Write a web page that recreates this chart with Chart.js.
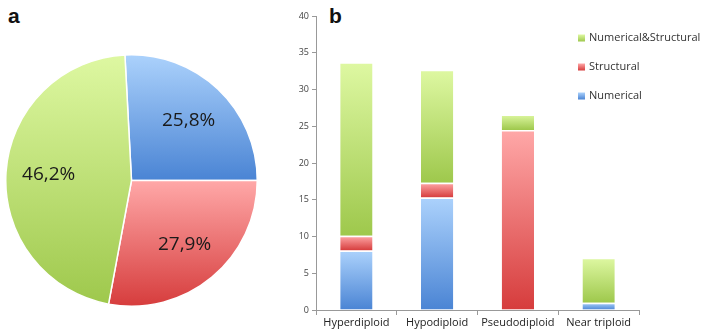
<!DOCTYPE html>
<html>
<head>
<meta charset="utf-8">
<script src="https://cdn.jsdelivr.net/npm/chart.js@4"></script>
<style>
  body { margin: 0; background: #fff; width: 706px; height: 332px; position: relative; overflow: hidden; }
  .panel { position: absolute; font-family: "Liberation Sans", Arial, sans-serif; font-weight: bold; font-size: 21px; color: #111; }
  #pieBox { position: absolute; left: 5px; top: 54px; width: 253px; height: 253px; }
  #barBox { position: absolute; left: 290px; top: 0; width: 416px; height: 332px; }
</style>
</head>
<body>
<div class="panel" style="left:8px; top:4px;">a</div>
<div class="panel" style="left:329px; top:4px;">b</div>
<div id="pieBox"><canvas id="pie"></canvas></div>
<div id="barBox"><canvas id="bars"></canvas></div>
<script>
// panel a: share of each abnormality type (%)
const pieLabels = ["Numerical", "Structural", "Numerical&Structural"];
const pieValues = [25.8, 27.9, 46.2];
const pieText = ["25,8%", "27,9%", "46,2%"];

// panel b: counts per ploidy group
const groups = ["Hyperdiploid", "Hypodiploid", "Pseudodiploid", "Near triploid"];
const numerical = [8.1, 15.3, 0, 1.0];
const structural = [2.0, 2.0, 24.5, 0];
const numStruct = [23.6, 15.4, 2.1, 6.1];
const yTicks = [0, 5, 10, 15, 20, 25, 30, 35, 40];

// light -> dark shades
const shades = {
  blue: ["#acd2fc", "#4a84d4"],
  red: ["#ffa8a8", "#d63c3c"],
  green: ["#def8a2", "#9ec84c"]
};

function vGrad(ctx, y0, y1, pair) {
  const g = ctx.createLinearGradient(0, y0, 0, y1);
  g.addColorStop(0, pair[0]);
  g.addColorStop(1, pair[1]);
  return g;
}

// ---- pie ----
const pieShades = [shades.blue, shades.red, shades.green];
const pieRotation = -3;

function pieFill(ctx) {
  const chart = ctx.chart;
  const area = chart.chartArea;
  const pair = pieShades[ctx.dataIndex];
  if (!area) return pair[0];
  const cy = (area.top + area.bottom) / 2;
  const r = Math.min(area.right - area.left, area.bottom - area.top) / 2;
  const total = pieValues.reduce((a, b) => a + b, 0);
  let before = 0;
  for (let k = 0; k < ctx.dataIndex; k++) before += pieValues[k];
  const a0 = (pieRotation - 90) * Math.PI / 180 + before / total * 2 * Math.PI;
  const a1 = a0 + pieValues[ctx.dataIndex] / total * 2 * Math.PI;
  let lo = cy, hi = cy;
  for (let k = 0; k <= 24; k++) {
    const y = cy + Math.sin(a0 + (a1 - a0) * k / 24) * r;
    lo = Math.min(lo, y); hi = Math.max(hi, y);
  }
  return vGrad(chart.ctx, lo, hi, pair);
}

const pieLabelPlugin = {
  id: "pieLabels",
  afterDatasetsDraw(chart) {
    const c = chart.ctx;
    const meta = chart.getDatasetMeta(0);
    c.save();
    c.font = "19px 'Open Sans', sans-serif";
    c.fillStyle = "#1a1a1a";
    c.textAlign = "center";
    c.textBaseline = "middle";
    meta.data.forEach((arc, i) => {
      const mid = (arc.startAngle + arc.endAngle) / 2;
      const r = arc.outerRadius * 0.66;
      c.fillText(pieText[i], arc.x + Math.cos(mid) * r, arc.y + Math.sin(mid) * r);
    });
    c.restore();
  }
};

new Chart(document.getElementById("pie"), {
  type: "pie",
  data: {
    labels: pieLabels,
    datasets: [{
      data: pieValues,
      backgroundColor: pieFill,
      borderColor: "#ffffff",
      borderWidth: 1.5
    }]
  },
  options: {
    responsive: true,
    maintainAspectRatio: false,
    animation: false,
    rotation: pieRotation,
    layout: { padding: 0 },
    plugins: { legend: { display: false }, tooltip: { enabled: false } }
  },
  plugins: [pieLabelPlugin]
});

// ---- stacked bars ----
const series = [numerical, structural, numStruct];

function barFill(ctx, pair) {
  const chart = ctx.chart;
  const y = chart.scales.y;
  if (!chart.chartArea || !y || ctx.dataIndex === undefined) return pair[0];
  let base = 0;
  for (let d = 0; d < ctx.datasetIndex; d++) base += series[d][ctx.dataIndex];
  const top = base + series[ctx.datasetIndex][ctx.dataIndex];
  return vGrad(chart.ctx, y.getPixelForValue(top), y.getPixelForValue(base), pair);
}

const legendPlugin = {
  id: "sideLegend",
  afterDraw(chart) {
    const c = chart.ctx;
    const items = chart.data.datasets.slice().reverse();
    c.save();
    c.font = "11px 'Open Sans', sans-serif";
    c.textBaseline = "middle";
    items.forEach((ds, i) => {
      const y = 38 + i * 29;
      const x = 288;
      c.fillStyle = vGrad(c, y - 3.5, y + 3.5, ds.legendPair);
      c.fillRect(x, y - 3.5, 7, 7);
      c.fillStyle = "#333";
      c.fillText(ds.label, x + 11, y);
    });
    c.restore();
  }
};

new Chart(document.getElementById("bars"), {
  type: "bar",
  data: {
    labels: groups,
    datasets: [
      { label: "Numerical", data: numerical, legendPair: shades.blue,
        backgroundColor: ctx => barFill(ctx, shades.blue) },
      { label: "Structural", data: structural, legendPair: shades.red,
        backgroundColor: ctx => barFill(ctx, shades.red) },
      { label: "Numerical&Structural", data: numStruct, legendPair: shades.green,
        backgroundColor: ctx => barFill(ctx, shades.green) }
    ]
  },
  options: {
    responsive: true,
    maintainAspectRatio: false,
    animation: false,
    layout: { padding: { top: 16, right: 67, left: 0, bottom: 0 } },
    datasets: { bar: { categoryPercentage: 1, barPercentage: 0.4,
      borderColor: "rgba(255,255,255,0.85)", borderWidth: { top: 1.5 }, borderSkipped: false } },
    plugins: { legend: { display: false }, tooltip: { enabled: false } },
    scales: {
      x: {
        stacked: true,
        grid: { drawOnChartArea: false, tickLength: 5, color: "#999" },
        border: { color: "#999" },
        ticks: { color: "#222", font: { family: "'Open Sans', sans-serif", size: 11 }, padding: 1, maxRotation: 0 },
        afterFit(scale) { scale.height = 22; }
      },
      y: {
        stacked: true,
        min: 0,
        max: 40,
        afterBuildTicks(scale) { scale.ticks = yTicks.map(v => ({ value: v })); },
        grid: { drawOnChartArea: false, tickLength: 4, color: "#999" },
        border: { color: "#999" },
        ticks: { color: "#444", font: { family: "'Open Sans', sans-serif", size: 9 }, padding: 3 },
        afterFit(scale) { scale.width = 26; }
      }
    }
  },
  plugins: [legendPlugin]
});
</script>
</body>
</html>
